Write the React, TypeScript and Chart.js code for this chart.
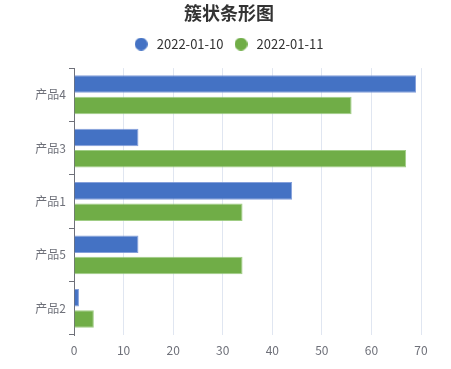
import React, { useEffect, useRef } from "react";
import { Chart, registerables } from "chart.js";

Chart.register(...registerables);

const categories = ["产品4", "产品3", "产品1", "产品5", "产品2"];
const seriesNames = ["2022-01-10", "2022-01-11"];
const series1 = [69, 13, 44, 13, 1];
const series2 = [56, 67, 34, 34, 4];
const seriesColors = ["#4472C4", "#70AD47"];
const xTicksMin = 0;
const xTicksMax = 70;
const xTickStep = 10;

const FONT = "'Noto Sans CJK SC', 'Noto Sans', sans-serif";

function dot(color: string, d: number) {
  const c = document.createElement("canvas");
  c.width = d;
  c.height = d;
  const g = c.getContext("2d")!;
  g.fillStyle = color;
  g.beginPath();
  g.arc(d / 2, d / 2, d / 2, 0, Math.PI * 2);
  g.fill();
  return c;
}

export default function App() {
  const ref = useRef<HTMLCanvasElement | null>(null);
  useEffect(() => {
    document.body.style.margin = "0";
    const ctx = ref.current!;
    const dots = seriesColors.map((c) => dot(c, 13));
    const chart = new Chart(ctx, {
      type: "bar",
      data: {
        labels: categories,
        datasets: [
          {
            label: seriesNames[0],
            data: series1,
            backgroundColor: seriesColors[0],
            borderColor: "rgba(120,150,215,0.9)",
            borderWidth: 1,
            categoryPercentage: 0.8,
            barPercentage: 0.82,
          },
          {
            label: seriesNames[1],
            data: series2,
            backgroundColor: seriesColors[1],
            borderColor: "rgba(150,200,120,0.9)",
            borderWidth: 1,
            categoryPercentage: 0.8,
            barPercentage: 0.82,
          },
        ],
      },
      options: {
        indexAxis: "y",
        responsive: false,
        animation: false,
        maintainAspectRatio: false,
        layout: { padding: { left: 7, right: 0, top: 2, bottom: 12 } },
        plugins: {
          title: {
            display: true,
            text: "簇状条形图",
            color: "#333333",
            font: { family: FONT, size: 18, weight: "bold" },
            padding: { top: 0, bottom: 3 },
          },
          subtitle: {
            display: true,
            text: "",
            weight: 500,
            font: { family: FONT, size: 1, lineHeight: 1 },
            padding: { top: 6.5, bottom: 0 },
          } as any,
          legend: {
            display: true,
            labels: {
              usePointStyle: true,
              boxWidth: 13,
              boxHeight: 13,
              color: "#333333",
              font: { family: FONT, size: 13 },
              padding: 11,
              generateLabels: (ch: any) =>
                ch.data.datasets.map((ds: any, i: number) => ({
                  text: "\u2009" + ds.label,
                  fillStyle: seriesColors[i],
                  strokeStyle: seriesColors[i],
                  lineWidth: 0,
                  pointStyle: dots[i],
                  hidden: false,
                  datasetIndex: i,
                  fontColor: "#333333",
                })),
            },
          },
          tooltip: { enabled: false },
        },
        scales: {
          x: {
            type: "linear",
            min: xTicksMin,
            max: xTicksMax,
            ticks: {
              stepSize: xTickStep,
              color: "#6e7079",
              font: { family: FONT, size: 12 },
              padding: 8,
            },
            grid: { color: "#e0e6f1", drawTicks: false },
            border: { display: false },
            afterFit: (scale: any) => {
              scale.height = 22;
              scale.paddingRight = 30;
            },
          },
          y: {
            type: "category",
            offset: true,
            ticks: {
              color: "#6e7079",
              font: { family: FONT, size: 12 },
              padding: 3,
            },
            grid: {
              offset: true,
              drawOnChartArea: false,
              drawTicks: true,
              tickLength: 5,
              color: "#6e7079",
            },
            border: { display: true, color: "#6e7079" },
            afterFit: (scale: any) => {
              scale.width = 67;
            },
          },
        },
      },
    });
    return () => chart.destroy();
  }, []);
  return (
    <div style={{ position: "fixed", left: 0, top: 0, width: 451, height: 369 }}>
      <canvas ref={ref} width={451} height={369} />
    </div>
  );
}
